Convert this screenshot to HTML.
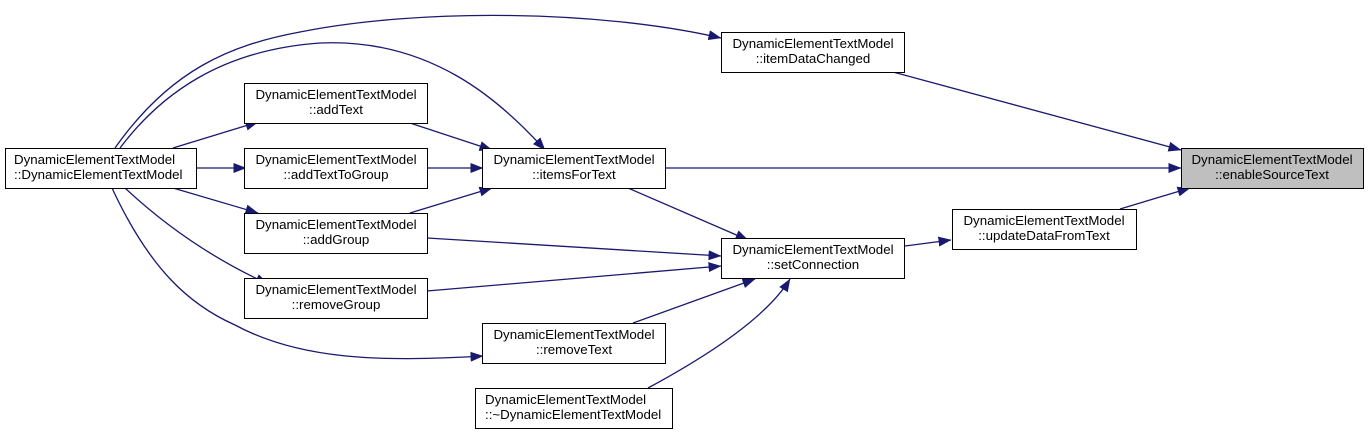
<!DOCTYPE html>
<html><head><meta charset="utf-8"><style>
body{margin:0;background:#fff}
text{font-family:"Liberation Sans",sans-serif;font-size:13.3px;fill:#000}
</style></head><body>
<svg width="1371" height="434" viewBox="0 0 1371 434" xmlns="http://www.w3.org/2000/svg">
<defs><marker id="a" markerWidth="13" markerHeight="10" refX="12.5" refY="5" orient="auto" markerUnits="userSpaceOnUse"><path d="M0,0 L13,5 L0,10 z" fill="#191970"/></marker></defs>
<g fill="none" stroke="#191970" stroke-width="1.3" marker-end="url(#a)">
<path d="M893,72 L1181,150"/>
<path d="M666,168 L1181,168"/>
<path d="M1120,209 L1190,188"/>
<path d="M905,246 L951,240"/>
<path d="M115,148 C170,70 230,45 300,32 C420,8 600,10 721,38"/>
<path d="M120,148 C160,95 220,50 320,43 C430,38 500,100 545,150"/>
<path d="M173,148 L258,122"/>
<path d="M196,168 L246,168"/>
<path d="M173,188 L258,213"/>
<path d="M125,188 C170,230 220,262 268,284"/>
<path d="M112,188 C150,270 190,305 235,325 C300,360 380,362 483,356"/>
<path d="M410,123 L492,150"/>
<path d="M427,168 L483,168"/>
<path d="M410,213 L492,188"/>
<path d="M427,238 L721,256"/>
<path d="M427,291 L721,266"/>
<path d="M628,188 L748,240"/>
<path d="M633,323 L755,279"/>
<path d="M648,388 C700,360 765,320 790,279"/>
</g>
<g stroke="#000" stroke-width="1" fill="#fff">
<rect x="1181.5" y="148.5" width="182" height="40" fill="#bfbfbf"/>
<rect x="721.5" y="32.5" width="183" height="40"/>
<rect x="482.5" y="148.5" width="183" height="40"/>
<rect x="952.5" y="209.5" width="184" height="40"/>
<rect x="721.5" y="238.5" width="183" height="40"/>
<rect x="244.5" y="83.5" width="183" height="40"/>
<rect x="244.5" y="148.5" width="183" height="40"/>
<rect x="244.5" y="213.5" width="183" height="40"/>
<rect x="244.5" y="278.5" width="183" height="40"/>
<rect x="482.5" y="323.5" width="183" height="40"/>
<rect x="475.5" y="388.5" width="197" height="40"/>
<rect x="5.5" y="148.5" width="191" height="40"/>
</g>
<g text-anchor="middle">
<text x="1272" y="164">DynamicElementTextModel</text><text x="1272" y="179">::enableSourceText</text>
<text x="813" y="48">DynamicElementTextModel</text><text x="813" y="63">::itemDataChanged</text>
<text x="574" y="164">DynamicElementTextModel</text><text x="574" y="179">::itemsForText</text>
<text x="1044" y="225">DynamicElementTextModel</text><text x="1044" y="240">::updateDataFromText</text>
<text x="813" y="254">DynamicElementTextModel</text><text x="813" y="269">::setConnection</text>
<text x="336" y="99">DynamicElementTextModel</text><text x="336" y="114">::addText</text>
<text x="336" y="164">DynamicElementTextModel</text><text x="336" y="179">::addTextToGroup</text>
<text x="336" y="229">DynamicElementTextModel</text><text x="336" y="244">::addGroup</text>
<text x="336" y="294">DynamicElementTextModel</text><text x="336" y="309">::removeGroup</text>
<text x="574" y="339">DynamicElementTextModel</text><text x="574" y="354">::removeText</text>
</g>
<text x="485" y="404">DynamicElementTextModel</text><text x="485" y="419">::~DynamicElementTextModel</text>
<text x="14" y="164">DynamicElementTextModel</text><text x="14" y="179">::DynamicElementTextModel</text>
</svg>
</body></html>
